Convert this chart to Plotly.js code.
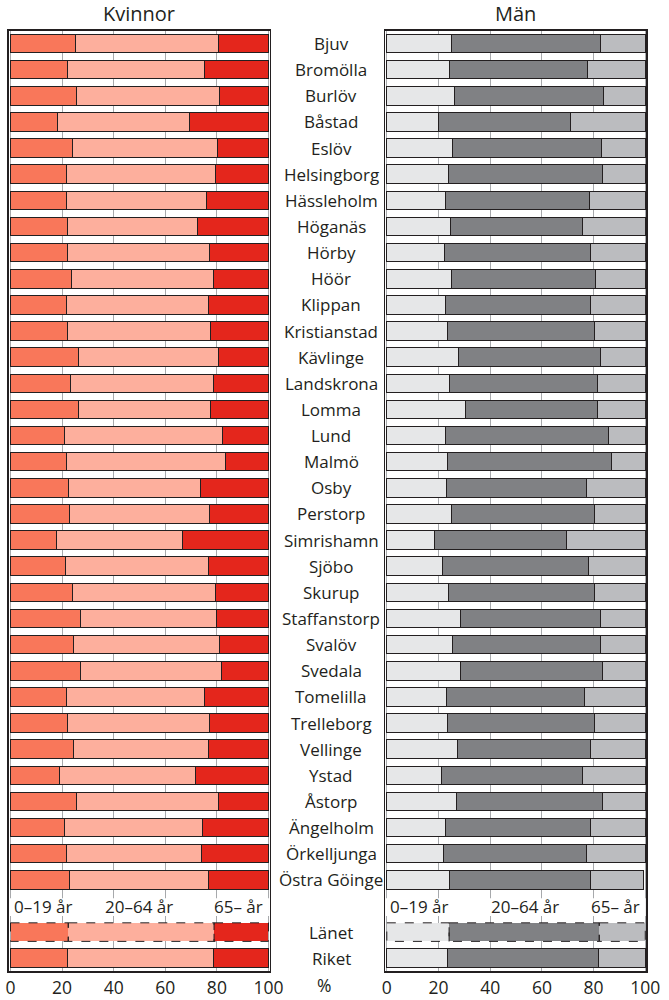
<!DOCTYPE html>
<html>
<head>
<meta charset="utf-8">
<script src="https://cdn.plot.ly/plotly-3.0.1.min.js"></script>
<style>
  html, body { margin: 0; padding: 0; background: #ffffff; }
  #chart { width: 669px; height: 1000px; }
</style>
</head>
<body>
<div id="chart"></div>
<script>
// ---------------- DATA ----------------
const municipalities = [
  "Bjuv", "Bromölla", "Burlöv", "Båstad", "Eslöv", "Helsingborg", "Hässleholm",
  "Höganäs", "Hörby", "Höör", "Klippan", "Kristianstad", "Kävlinge", "Landskrona",
  "Lomma", "Lund", "Malmö", "Osby", "Perstorp", "Simrishamn", "Sjöbo", "Skurup",
  "Staffanstorp", "Svalöv", "Svedala", "Tomelilla", "Trelleborg", "Vellinge",
  "Ystad", "Åstorp", "Ängelholm", "Örkelljunga", "Östra Göinge"
];
const summaryRows = ["Länet", "Riket"];
const ageGroups = ["0–19 år", "20–64 år", "65– år"];
const panelTitles = ["Kvinnor", "Män"];
const tickValues = [0, 20, 40, 60, 80, 100];
const unitLabel = "%";

// Kvinnor (women), % per age group: 33 municipalities, then Länet, Riket
const women0_19 = [25.2, 22.2, 25.5, 18.1, 24.1, 21.9, 21.9, 22.1, 22.2, 23.7, 21.9, 22.2, 26.5, 23.1, 26.5, 20.9, 21.9, 22.6, 22.7, 18.0, 21.4, 24.1, 27.2, 24.5, 27.2, 21.6, 22.1, 24.5, 19.1, 25.7, 21.1, 21.6, 22.9, 22.4, 22.2];
const women20_64 = [55.5, 53.1, 55.6, 51.3, 56.1, 57.7, 53.9, 50.4, 54.9, 55.0, 54.7, 55.2, 54.1, 55.6, 51.1, 61.3, 61.3, 50.9, 54.4, 48.6, 55.4, 55.3, 52.7, 56.7, 54.7, 53.7, 55.0, 52.1, 52.7, 55.0, 53.4, 52.5, 53.7, 56.5, 56.5];
const women65 = [19.3, 24.7, 18.9, 30.6, 19.8, 20.4, 24.2, 27.5, 22.9, 21.3, 23.4, 22.6, 19.4, 21.3, 22.4, 17.8, 16.8, 26.5, 22.9, 33.4, 23.2, 20.6, 20.1, 18.8, 18.1, 24.7, 22.9, 23.4, 28.2, 19.3, 25.5, 25.9, 23.4, 21.1, 21.3];

// Män (men)
const men0_19 = [24.9, 24.1, 26.1, 20.1, 25.6, 23.8, 22.6, 24.6, 22.3, 24.9, 22.9, 23.6, 27.9, 24.3, 30.4, 22.9, 23.4, 23.1, 24.9, 18.3, 21.6, 23.8, 28.4, 25.4, 28.4, 23.1, 23.3, 27.2, 21.1, 27.1, 22.6, 22.1, 24.3, 24.1, 23.3];
const men20_64 = [57.6, 53.6, 57.7, 51.0, 57.6, 59.5, 55.9, 51.1, 56.7, 56.0, 56.0, 56.8, 54.8, 57.2, 51.1, 62.7, 63.4, 54.1, 55.3, 51.2, 56.3, 56.7, 54.3, 57.4, 54.9, 53.5, 56.9, 51.7, 54.6, 56.2, 56.3, 55.3, 54.7, 58.1, 58.7];
const men65 = [17.5, 22.3, 16.2, 28.9, 16.8, 16.7, 21.5, 24.3, 21.0, 19.1, 21.1, 19.6, 17.3, 18.5, 18.5, 14.4, 13.2, 22.8, 19.8, 30.5, 22.1, 19.5, 17.3, 17.2, 16.7, 23.4, 19.8, 21.1, 24.3, 16.7, 21.1, 22.6, 20.2, 17.8, 18.0];

// ---------------- STYLE ----------------
const womenColors = ["#F9775A", "#FDAF9D", "#E4261C"];
const menColors = ["#E6E7E8", "#808184", "#BBBCBF"];
const ink = "#231F20";
const FONT = "Open Sans, DejaVu Sans, sans-serif";
const BAR_W = 0.71;

// rows: municipalities, one empty (legend text) row, then summary rows
const allLabels = municipalities.concat(summaryRows);
const legendRow = municipalities.length;
const yPos = allLabels.map((_, i) => i < municipalities.length ? i : i + 1);
const lanetIdx = municipalities.length; // index of Länet in data arrays
const nRows = municipalities.length + 1 + summaryRows.length;

const lineWidths = allLabels.map((l) => l === "Länet" ? 0 : 1);

function barTrace(vals, color, xa, ya) {
  return {
    type: "bar", orientation: "h",
    x: vals, y: yPos, width: BAR_W,
    xaxis: xa, yaxis: ya,
    marker: { color: color, line: { color: ink, width: lineWidths } },
    hoverinfo: "skip", showlegend: false
  };
}

const traces = [
  barTrace(women0_19, womenColors[0], "x", "y"),
  barTrace(women20_64, womenColors[1], "x", "y"),
  barTrace(women65, womenColors[2], "x", "y"),
  barTrace(men0_19, menColors[0], "x2", "y2"),
  barTrace(men20_64, menColors[1], "x2", "y2"),
  barTrace(men65, menColors[2], "x2", "y2")
];

// ---------------- SHAPES ----------------
const shapes = [];
// white band hiding gridlines in the legend-text row
[["x", "y"], ["x2", "y2"]].forEach(([xa, ya]) => {
  shapes.push({
    type: "rect", xref: xa, yref: ya, x0: -0.4, x1: 100.2,
    y0: legendRow - 0.5 + 0.2, y1: legendRow + 0.5 - 0.12,
    fillcolor: "#ffffff", line: { width: 0 }, layer: "between"
  });
});
// dashed outlines for Länet segments, computed from the data
function dashedSegments(series, xa, ya) {
  let acc = 0;
  series.forEach((s) => {
    const v = s[lanetIdx];
    shapes.push({
      type: "rect", xref: xa, yref: ya,
      x0: acc, x1: acc + v,
      y0: yPos[lanetIdx] - BAR_W / 2, y1: yPos[lanetIdx] + BAR_W / 2,
      line: { color: ink, width: 1, dash: "dash" },
      fillcolor: "rgba(0,0,0,0)", layer: "above"
    });
    acc += v;
  });
}
dashedSegments([women0_19, women20_64, women65], "x", "y");
dashedSegments([men0_19, men20_64, men65], "x2", "y2");

// ---------------- ANNOTATIONS ----------------
const annotations = [];
allLabels.forEach((lab, i) => {
  annotations.push({
    text: lab, xref: "paper", yref: "y", x: 331 / 669, y: yPos[i],
    xanchor: "center", yanchor: "middle", showarrow: false,
    font: { family: FONT, size: 17, color: ink }
  });
});
// legend texts inside each panel
[["x", "y"], ["x2", "y2"]].forEach(([xa, ya], p) => {
  const xs = [0.6, p === 0 ? 50 : 53.6, 98.6];
  const anchors = ["left", "center", "right"];
  ageGroups.forEach((g, k) => {
    annotations.push({
      text: g, xref: xa, yref: ya, x: xs[k], y: legendRow + 0.02,
      xanchor: anchors[k], yanchor: "middle", showarrow: false,
      font: { family: FONT, size: 17, color: ink }
    });
  });
});
// panel titles
annotations.push({
  text: panelTitles[0], xref: "x domain", yref: "paper", x: 0.5, y: 1 - 13 / 1000,
  xanchor: "center", yanchor: "middle", showarrow: false,
  font: { family: FONT, size: 20, color: ink }
});
annotations.push({
  text: panelTitles[1], xref: "x2 domain", yref: "paper", x: 0.5, y: 1 - 13 / 1000,
  xanchor: "center", yanchor: "middle", showarrow: false,
  font: { family: FONT, size: 20, color: ink }
});
// unit label
annotations.push({
  text: unitLabel, xref: "paper", yref: "paper", x: 324 / 669, y: 1 - 985 / 1000,
  xanchor: "center", yanchor: "middle", showarrow: false,
  font: { family: FONT, size: 17.5, color: ink }
});

// ---------------- LAYOUT ----------------
function xAxis(domain, anchor) {
  return {
    domain: domain, anchor: anchor, range: [-0.6, 100.4],
    tickvals: tickValues, ticks: "", showgrid: true,
    gridcolor: "#A7A9AC", gridwidth: 1, zeroline: false,
    showline: true, mirror: true, linecolor: ink, linewidth: 1.5,
    tickfont: { family: FONT, size: 17.5, color: ink },
    ticklabelstandoff: 0, fixedrange: true
  };
}
function yAxis(anchor) {
  return {
    domain: [1 - 971.3 / 1000, 1 - 30.5 / 1000], anchor: anchor,
    range: [nRows - 0.5, -0.5], showticklabels: false, ticks: "",
    showgrid: false, zeroline: false,
    showline: true, mirror: true, linecolor: ink, linewidth: 1.5,
    fixedrange: true
  };
}

const layout = {
  width: 669, height: 1000,
  margin: { l: 0, r: 0, t: 0, b: 0 },
  paper_bgcolor: "#ffffff", plot_bgcolor: "#ffffff",
  barmode: "stack", bargap: 0,
  showlegend: false,
  xaxis: xAxis([8.95 / 669, 269.5 / 669], "y"),
  yaxis: yAxis("x"),
  xaxis2: xAxis([385.25 / 669, 646.3 / 669], "y2"),
  yaxis2: yAxis("x2"),
  shapes: shapes,
  annotations: annotations,
  font: { family: FONT, color: ink }
};

Plotly.newPlot("chart", traces, layout, { staticPlot: true, displayModeBar: false });
</script>
</body>
</html>
